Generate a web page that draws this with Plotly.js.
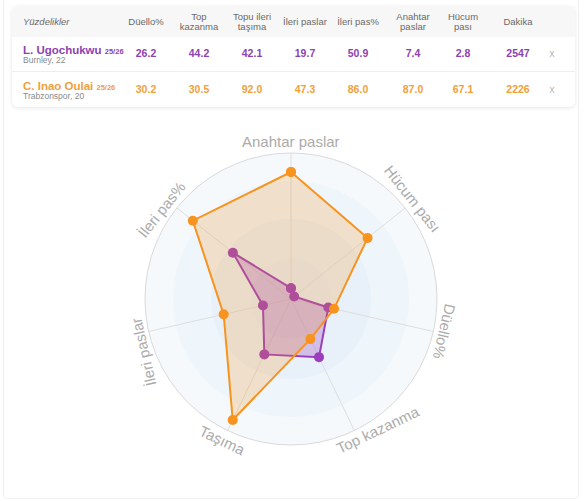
<!DOCTYPE html>
<html>
<head>
<meta charset="utf-8">
<script src="https://cdn.plot.ly/plotly-3.0.1.min.js"></script>
<style>
  html, body { margin:0; padding:0; background:#fff; }
  body { width:585px; height:502px; position:relative; overflow:hidden; font-family:"Liberation Sans", Arial, sans-serif; }
  #frame { position:absolute; left:3px; top:-2px; width:576px; height:501px; border:1px solid #f0f0f0; border-radius:4px; box-sizing:border-box; }
  #chart { position:absolute; left:0; top:0; width:585px; height:502px; }
  #card { position:absolute; left:12px; top:6px; width:563px; height:101px; border-radius:6px; background:#fff;
          box-shadow:0 1px 4px rgba(0,0,0,0.10); overflow:hidden; }
  #head { position:absolute; left:0; top:0; width:100%; height:31px; background:#f7f7f7; }
  #sep { position:absolute; left:0; top:65px; width:100%; height:1px; background:#eeeeee; }
  .h { position:absolute; font-size:9.5px; color:#6a6a6a; text-align:center; line-height:10px; transform:translate(-50%,-50%); white-space:nowrap; }
  .v { position:absolute; font-size:10.5px; font-weight:bold; transform:translate(-50%,-50%); white-space:nowrap; }
  .nm { position:absolute; font-size:11.5px; font-weight:bold; white-space:nowrap; transform:translateY(-50%); }
  .nm small { font-size:7.5px; }
  .cl { position:absolute; font-size:8.5px; color:#8a8a8a; white-space:nowrap; transform:translateY(-50%); }
  .x { position:absolute; font-size:10px; color:#b5b5b5; transform:translate(-50%,-50%); }
</style>
</head>
<body>
<div id="frame"></div>
<div id="chart"></div>
<div id="card"><div id="head"></div><div id="sep"></div></div>
<script>
// ---- data ----
const tableHeaders = ['Düello%', 'Top<br>kazanma', 'Topu ileri<br>taşıma', 'İleri paslar', 'İleri pas%', 'Anahtar<br>paslar', 'Hücum<br>pası', 'Dakika'];
const radarCategories = ['Anahtar paslar', 'Hücum pası', 'Düello%', 'Top kazanma', 'Taşıma', 'İleri paslar', 'İleri pas%'];
const playerNames = ['L. Ugochukwu', 'C. Inao Oulai'];
const playerSeasons = ['25/26', '25/26'];
const playerClubs = ['Burnley, 22', 'Trabzonspor, 20'];
// table order: Düello%, Top kazanma, Topu ileri taşıma, İleri paslar, İleri pas%, Anahtar paslar, Hücum pası
const ugochukwuStats = [26.2, 44.2, 42.1, 19.7, 50.9, 7.4, 2.8];
const inaoOulaiStats = [30.2, 30.5, 92.0, 47.3, 86.0, 87.0, 67.1];
const playerMinutes = [2547, 2226];
// which table column feeds each radar axis
const radarFromTable = [5, 6, 0, 1, 2, 3, 4];

const playerColors = ['#9b3dbd', '#f7931e'];
const playerTextColors = ['#8e3fb0', '#f0a03c'];

// ---- table ----
const card = document.getElementById('card');
const colCenters = [134, 187, 240, 293, 346, 401, 451, 506]; // within card
function add(cls, html, left, top, color) {
  const d = document.createElement('div');
  d.className = cls; d.innerHTML = html;
  d.style.left = left + 'px'; d.style.top = top + 'px';
  if (color) d.style.color = color;
  card.appendChild(d); return d;
}
const yz = add('h', 'Yüzdelikler', 11, 16);
yz.style.transform = 'translateY(-50%)'; yz.style.fontStyle = 'italic'; yz.style.textAlign = 'left';
tableHeaders.forEach((h, i) => add('h', h, colCenters[i], 16));
const allStats = [ugochukwuStats, inaoOulaiStats];
const rowY = [47, 83];
playerNames.forEach((n, p) => {
  add('nm', n + ' <small>' + playerSeasons[p] + '</small>', 11, rowY[p] - 3, playerTextColors[p]);
  add('cl', playerClubs[p], 11, rowY[p] + 7);
  allStats[p].forEach((v, i) => add('v', v.toFixed(1), colCenters[i], rowY[p], playerTextColors[p]));
  add('v', String(playerMinutes[p]), colCenters[7], rowY[p], playerTextColors[p]);
  add('x', 'x', 540, rowY[p]);
});

// ---- radar ----
const W = 585, H = 502, cx = 291, cy = 299, R = 146;
function closed(arr) { return arr.concat([arr[0]]); }
const radarVals = allStats.map(s => radarFromTable.map(k => s[k]));
const fills = ['rgba(155,61,189,0.28)', 'rgba(247,147,30,0.22)'];
const traces = playerNames.map((n, p) => ({
  type: 'scatterpolar',
  r: closed(radarVals[p]),
  theta: closed(radarCategories),
  mode: 'lines+markers',
  fill: 'toself',
  fillcolor: fills[p],
  line: { color: playerColors[p], width: 2 },
  marker: { color: playerColors[p], size: 10 },
  name: n,
  hoverinfo: 'skip'
}));

const shapes = [[146, '#f5f9fc'], [118, '#eef5fb'], [80, '#e8f1f9'], [40, '#e4eef8']].map(([r, c]) => ({
  type: 'circle', xref: 'paper', yref: 'paper', layer: 'below',
  x0: (cx - r) / W, x1: (cx + r) / W, y0: 1 - (cy + r) / H, y1: 1 - (cy - r) / H,
  fillcolor: c, line: { width: 0 }
}));

const labelAngleAdjust = [0, 1, 1, 8, 0, 7, 4];
const annotations = radarCategories.map((c, i) => {
  const th = 90 - i * 360 / radarCategories.length;
  const tha = (th + labelAngleAdjust[i]) * Math.PI / 180;
  const rl = 157;
  let rot = 90 - th;
  while (rot > 180) rot -= 360;
  while (rot <= -180) rot += 360;
  if (rot > 110) rot -= 180;
  if (rot < -110) rot += 180;
  return {
    text: c, showarrow: false, xref: 'paper', yref: 'paper',
    x: (cx + rl * Math.cos(tha)) / W, y: 1 - (cy - rl * Math.sin(tha)) / H,
    xanchor: 'center', yanchor: 'middle', textangle: rot,
    font: { size: 15, color: '#ababab', family: 'Liberation Sans, Arial, sans-serif' }
  };
});

const layout = {
  width: W, height: H,
  margin: { l: 0, r: 0, t: 0, b: 0 },
  paper_bgcolor: 'rgba(0,0,0,0)',
  showlegend: false,
  shapes: shapes,
  annotations: annotations,
  polar: {
    domain: { x: [(cx - R) / W, (cx + R) / W], y: [1 - (cy + R) / H, 1 - (cy - R) / H] },
    bgcolor: 'rgba(0,0,0,0)',
    angularaxis: {
      rotation: 90, direction: 'clockwise', showticklabels: false, ticks: '',
      gridcolor: '#dedede', gridwidth: 1, linecolor: '#dadada', linewidth: 1
    },
    radialaxis: {
      range: [0, 100], showticklabels: false, ticks: '', showgrid: false, showline: false
    }
  }
};
Plotly.newPlot('chart', traces, layout, { displayModeBar: false, staticPlot: true });
</script>
</body>
</html>
